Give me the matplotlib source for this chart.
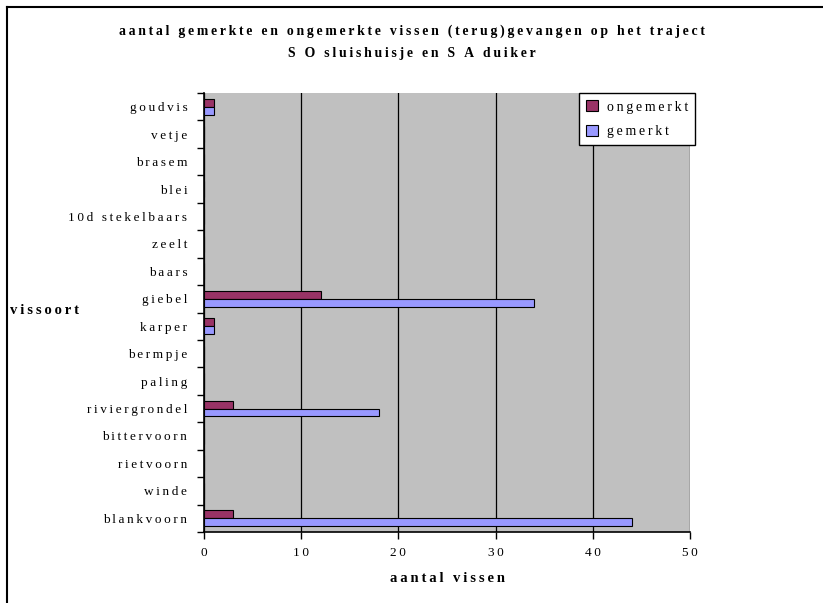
import matplotlib.pyplot as plt
import numpy as np

# fish species, bottom to top
soorten = ["blankvoorn", "winde", "rietvoorn", "bittervoorn", "riviergrondel",
           "paling", "bermpje", "karper", "giebel", "baars", "zeelt",
           "10d stekelbaars", "blei", "brasem", "vetje", "goudvis"]
ongemerkt = [3, 0, 0, 0, 3, 0, 0, 1, 12, 0, 0, 0, 0, 0, 0, 1]
gemerkt = [44, 0, 0, 0, 18, 0, 0, 1, 34, 0, 0, 0, 0, 0, 0, 1]
x_ticks = [0, 10, 20, 30, 40, 50]

TS = "\u2009"


def spaced(s):
    # wide letter spacing like the old spreadsheet fonts
    return TS.join(s)


plt.rcParams['font.family'] = ['Liberation Serif', 'DejaVu Serif']

fig = plt.figure(figsize=(8.23, 6.03), dpi=100)
fig.patch.set_facecolor('white')

# outer frame: only left and top edges
fig.add_artist(plt.Line2D([7 / 823, 7 / 823], [0, 1 - 7 / 603], color='black', lw=1.5,
                          transform=fig.transFigure))
fig.add_artist(plt.Line2D([7 / 823, 1], [1 - 7 / 603, 1 - 7 / 603], color='black', lw=1.5,
                          transform=fig.transFigure))

ax = fig.add_axes([204 / 823, 71 / 603, 486 / 823, 439 / 603])
ax.set_facecolor('#C0C0C0')

y = np.arange(len(soorten))
h = 0.29
ax.barh(y + h / 2, ongemerkt, height=h, color='#993366', edgecolor='black', lw=0.8,
        label=spaced("ongemerkt"), zorder=3)
ax.barh(y - h / 2, gemerkt, height=h, color='#9999FF', edgecolor='black', lw=0.8,
        label=spaced("gemerkt"), zorder=3)

ax.set_xlim(0, 50)
ax.set_ylim(-0.5, len(soorten) - 0.5)

ax.set_xticks(x_ticks)
ax.set_xticklabels([spaced(str(t)) for t in x_ticks], fontsize=9.5)
ax.grid(axis='x', color='black', lw=0.9, zorder=1)

# category labels in the middle, tick marks on the boundaries
ax.set_yticks(y)
ax.set_yticklabels([spaced(s) for s in soorten], fontsize=9.5)
ax.tick_params(axis='y', which='major', length=0, pad=12)
ax.set_yticks(np.arange(-0.5, len(soorten)), minor=True)
ax.tick_params(axis='y', which='minor', length=5, width=1)
ax.tick_params(axis='x', length=5, width=1, pad=6)

for side in ['top', 'right']:
    ax.spines[side].set_visible(False)
ax.spines['left'].set_linewidth(1.2)
ax.spines['bottom'].set_linewidth(1.2)

fig.text(412 / 823, 1 - 31 / 603,
         spaced("aantal gemerkte en ongemerkte vissen (terug)gevangen op het traject"),
         ha='center', va='center', fontsize=9.9, fontweight='bold')
fig.text(412 / 823, 1 - 53 / 603, spaced("S O sluishuisje en S A duiker"),
         ha='center', va='center', fontsize=9.9, fontweight='bold')
fig.text(10 / 823, 1 - 311 / 603, spaced("vissoort"), ha='left', va='center',
         fontsize=10.5, fontweight='bold')
fig.text(448 / 823, 1 - 578 / 603, spaced("aantal vissen"), ha='center', va='center',
         fontsize=10.5, fontweight='bold')

leg = ax.legend(loc='upper left', bbox_to_anchor=((579 - 204) / 486, 1.0), fontsize=10,
                frameon=True, fancybox=False, edgecolor='black', framealpha=1,
                handlelength=0.9, handleheight=0.9, handletextpad=0.6,
                borderpad=0.5, labelspacing=0.8, borderaxespad=0)
leg.get_frame().set_linewidth(1)

fig.savefig("out.png", dpi=100)
